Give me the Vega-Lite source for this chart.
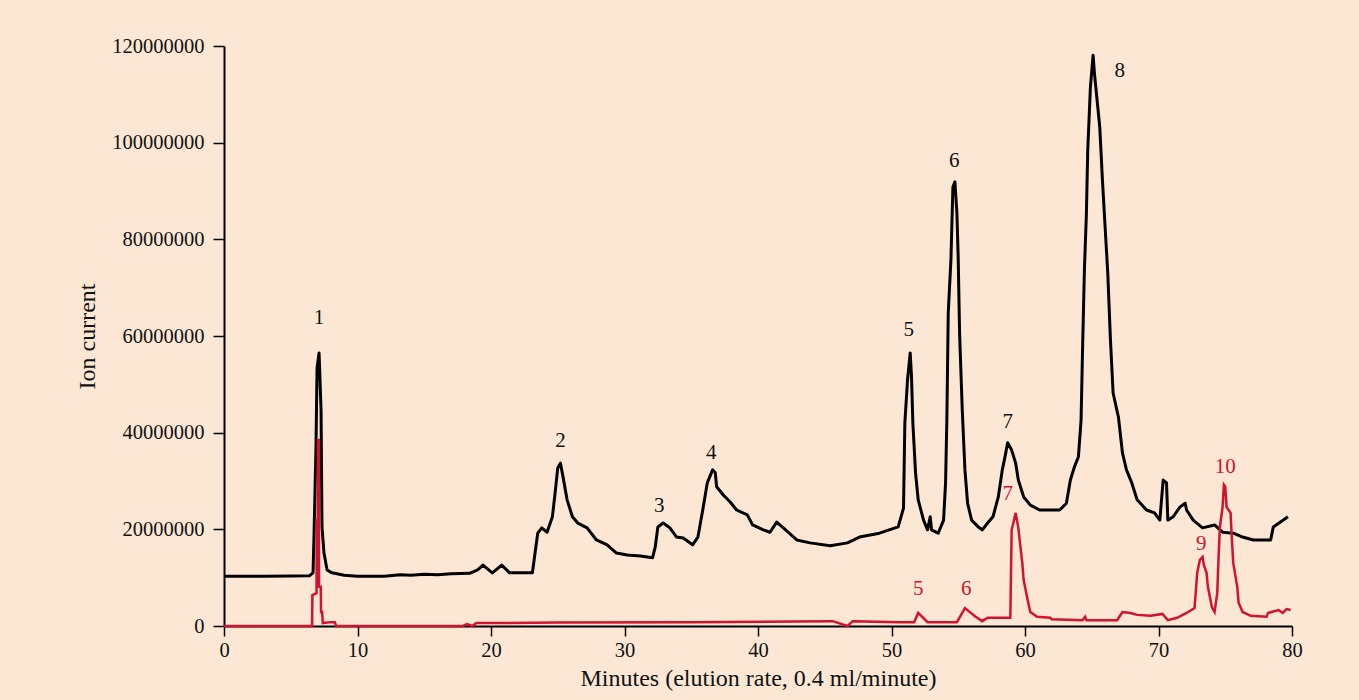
{
  "$schema": "https://vega.github.io/schema/vega-lite/v6.json",
  "width": 1068,
  "height": 580,
  "autosize": {"type": "none"},
  "padding": {"left": 224, "top": 46, "right": 67, "bottom": 74},
  "background": "#fce7d4",
  "config": {
    "view": {"stroke": null},
    "font": "Liberation Serif",
    "axis": {
      "grid": false,
      "domainColor": "#000000",
      "domainWidth": 2,
      "tickColor": "#000000",
      "tickWidth": 1.5,
      "labelColor": "#111111",
      "labelFontSize": 20.5,
      "labelFont": "Liberation Serif",
      "titleFont": "Liberation Serif",
      "titleFontSize": 24,
      "titleFontWeight": "normal",
      "titleColor": "#111111"
    }
  },
  "datasets": {
    "black": [
      {"minutes": 0, "current": 10300000},
      {"minutes": 3, "current": 10300000},
      {"minutes": 5, "current": 10350000},
      {"minutes": 6.4, "current": 10400000},
      {"minutes": 6.67, "current": 11000000},
      {"minutes": 6.74, "current": 18400000},
      {"minutes": 6.89, "current": 37000000},
      {"minutes": 6.97, "current": 53400000},
      {"minutes": 7.12, "current": 56500000},
      {"minutes": 7.27, "current": 44700000},
      {"minutes": 7.34, "current": 20500000},
      {"minutes": 7.49, "current": 15100000},
      {"minutes": 7.72, "current": 11600000},
      {"minutes": 8.09, "current": 11000000},
      {"minutes": 9, "current": 10500000},
      {"minutes": 10, "current": 10300000},
      {"minutes": 12, "current": 10300000},
      {"minutes": 13.2, "current": 10600000},
      {"minutes": 14, "current": 10500000},
      {"minutes": 15, "current": 10700000},
      {"minutes": 16, "current": 10600000},
      {"minutes": 17, "current": 10800000},
      {"minutes": 18.4, "current": 10900000},
      {"minutes": 19.0, "current": 11600000},
      {"minutes": 19.4, "current": 12600000},
      {"minutes": 20.1, "current": 11000000},
      {"minutes": 20.8, "current": 12600000},
      {"minutes": 21.4, "current": 11000000},
      {"minutes": 23.1, "current": 11000000},
      {"minutes": 23.3, "current": 15100000},
      {"minutes": 23.5, "current": 19200000},
      {"minutes": 23.8, "current": 20300000},
      {"minutes": 24.2, "current": 19400000},
      {"minutes": 24.6, "current": 22600000},
      {"minutes": 24.8, "current": 27500000},
      {"minutes": 25.0, "current": 32700000},
      {"minutes": 25.2, "current": 33700000},
      {"minutes": 25.4, "current": 30800000},
      {"minutes": 25.7, "current": 26100000},
      {"minutes": 26.1, "current": 22600000},
      {"minutes": 26.5, "current": 21300000},
      {"minutes": 27.2, "current": 20300000},
      {"minutes": 27.9, "current": 17800000},
      {"minutes": 28.7, "current": 16800000},
      {"minutes": 29.4, "current": 15100000},
      {"minutes": 30.2, "current": 14700000},
      {"minutes": 31.2, "current": 14500000},
      {"minutes": 32.1, "current": 14100000},
      {"minutes": 32.3, "current": 16300000},
      {"minutes": 32.5, "current": 20500000},
      {"minutes": 32.9, "current": 21300000},
      {"minutes": 33.4, "current": 20300000},
      {"minutes": 33.9, "current": 18400000},
      {"minutes": 34.4, "current": 18200000},
      {"minutes": 35.1, "current": 16800000},
      {"minutes": 35.5, "current": 18400000},
      {"minutes": 35.9, "current": 24600000},
      {"minutes": 36.2, "current": 29600000},
      {"minutes": 36.6, "current": 32300000},
      {"minutes": 36.8, "current": 31700000},
      {"minutes": 36.9, "current": 28800000},
      {"minutes": 37.4, "current": 27100000},
      {"minutes": 37.9, "current": 25700000},
      {"minutes": 38.4, "current": 24000000},
      {"minutes": 39.2, "current": 23000000},
      {"minutes": 39.6, "current": 20900000},
      {"minutes": 40.4, "current": 19900000},
      {"minutes": 40.9, "current": 19400000},
      {"minutes": 41.4, "current": 21500000},
      {"minutes": 41.9, "current": 20300000},
      {"minutes": 42.9, "current": 17800000},
      {"minutes": 43.9, "current": 17200000},
      {"minutes": 45.4, "current": 16600000},
      {"minutes": 46.7, "current": 17200000},
      {"minutes": 47.6, "current": 18400000},
      {"minutes": 49.1, "current": 19200000},
      {"minutes": 50.5, "current": 20500000},
      {"minutes": 50.9, "current": 24400000},
      {"minutes": 51.0, "current": 42000000},
      {"minutes": 51.2, "current": 50900000},
      {"minutes": 51.4, "current": 56500000},
      {"minutes": 51.5, "current": 51500000},
      {"minutes": 51.6, "current": 42000000},
      {"minutes": 51.8, "current": 31700000},
      {"minutes": 52.0, "current": 26100000},
      {"minutes": 52.4, "current": 21900000},
      {"minutes": 52.7, "current": 19900000},
      {"minutes": 52.9, "current": 22600000},
      {"minutes": 53.0, "current": 19900000},
      {"minutes": 53.5, "current": 19200000},
      {"minutes": 53.9, "current": 21900000},
      {"minutes": 54.05, "current": 29600000},
      {"minutes": 54.15, "current": 43200000},
      {"minutes": 54.25, "current": 64800000},
      {"minutes": 54.45, "current": 75700000},
      {"minutes": 54.6, "current": 90800000},
      {"minutes": 54.75, "current": 91900000},
      {"minutes": 54.9, "current": 85400000},
      {"minutes": 55.0, "current": 75700000},
      {"minutes": 55.1, "current": 60600000},
      {"minutes": 55.3, "current": 44700000},
      {"minutes": 55.5, "current": 32300000},
      {"minutes": 55.7, "current": 25400000},
      {"minutes": 56.0, "current": 21900000},
      {"minutes": 56.5, "current": 20500000},
      {"minutes": 56.8, "current": 19900000},
      {"minutes": 57.2, "current": 21300000},
      {"minutes": 57.6, "current": 22600000},
      {"minutes": 58.0, "current": 26700000},
      {"minutes": 58.3, "current": 32300000},
      {"minutes": 58.5, "current": 35000000},
      {"minutes": 58.7, "current": 37900000},
      {"minutes": 59.0, "current": 36400000},
      {"minutes": 59.3, "current": 33700000},
      {"minutes": 59.5, "current": 30200000},
      {"minutes": 59.9, "current": 26700000},
      {"minutes": 60.4, "current": 25000000},
      {"minutes": 61.1, "current": 24000000},
      {"minutes": 61.9, "current": 24000000},
      {"minutes": 62.6, "current": 24000000},
      {"minutes": 63.1, "current": 25400000},
      {"minutes": 63.4, "current": 30200000},
      {"minutes": 63.7, "current": 32900000},
      {"minutes": 64.0, "current": 35000000},
      {"minutes": 64.2, "current": 42600000},
      {"minutes": 64.3, "current": 55700000},
      {"minutes": 64.45, "current": 73700000},
      {"minutes": 64.6, "current": 85400000},
      {"minutes": 64.7, "current": 98500000},
      {"minutes": 64.9, "current": 111500000},
      {"minutes": 65.1, "current": 118100000},
      {"minutes": 65.2, "current": 114400000},
      {"minutes": 65.4, "current": 108800000},
      {"minutes": 65.6, "current": 103200000},
      {"minutes": 65.8, "current": 92300000},
      {"minutes": 66.0, "current": 82600000},
      {"minutes": 66.2, "current": 73000000},
      {"minutes": 66.4, "current": 59200000},
      {"minutes": 66.6, "current": 48200000},
      {"minutes": 67.0, "current": 43200000},
      {"minutes": 67.3, "current": 35800000},
      {"minutes": 67.6, "current": 32300000},
      {"minutes": 68.0, "current": 29600000},
      {"minutes": 68.4, "current": 26100000},
      {"minutes": 69.1, "current": 24000000},
      {"minutes": 69.7, "current": 23400000},
      {"minutes": 70.1, "current": 21900000},
      {"minutes": 70.35, "current": 30200000},
      {"minutes": 70.6, "current": 29600000},
      {"minutes": 70.7, "current": 21900000},
      {"minutes": 71.1, "current": 22600000},
      {"minutes": 71.6, "current": 24600000},
      {"minutes": 72.0, "current": 25400000},
      {"minutes": 72.1, "current": 24000000},
      {"minutes": 72.6, "current": 21900000},
      {"minutes": 73.3, "current": 20300000},
      {"minutes": 74.2, "current": 20900000},
      {"minutes": 74.8, "current": 19400000},
      {"minutes": 75.6, "current": 19200000},
      {"minutes": 76.3, "current": 18400000},
      {"minutes": 77.1, "current": 17800000},
      {"minutes": 78.4, "current": 17800000},
      {"minutes": 78.6, "current": 20500000},
      {"minutes": 79.7, "current": 22600000}
    ],
    "red": [
      {"minutes": 0, "current": 0},
      {"minutes": 6.6, "current": 0},
      {"minutes": 6.62, "current": 6400000},
      {"minutes": 6.93, "current": 6800000},
      {"minutes": 6.95, "current": 21900000},
      {"minutes": 7.02, "current": 21900000},
      {"minutes": 7.04, "current": 38500000},
      {"minutes": 7.1, "current": 38500000},
      {"minutes": 7.12, "current": 8100000},
      {"minutes": 7.25, "current": 8100000},
      {"minutes": 7.27, "current": 2900000},
      {"minutes": 7.35, "current": 2900000},
      {"minutes": 7.4, "current": 600000},
      {"minutes": 8.0, "current": 800000},
      {"minutes": 8.3, "current": 800000},
      {"minutes": 8.4, "current": 0},
      {"minutes": 17.9, "current": 0},
      {"minutes": 18.2, "current": 400000},
      {"minutes": 18.6, "current": 0},
      {"minutes": 18.9, "current": 600000},
      {"minutes": 25, "current": 700000},
      {"minutes": 35, "current": 800000},
      {"minutes": 45.6, "current": 1000000},
      {"minutes": 46.7, "current": 0},
      {"minutes": 47.1, "current": 1000000},
      {"minutes": 50.6, "current": 800000},
      {"minutes": 51.7, "current": 800000},
      {"minutes": 52.0, "current": 2700000},
      {"minutes": 52.7, "current": 800000},
      {"minutes": 54.9, "current": 800000},
      {"minutes": 55.5, "current": 3700000},
      {"minutes": 56.3, "current": 1900000},
      {"minutes": 56.8, "current": 1000000},
      {"minutes": 57.2, "current": 1700000},
      {"minutes": 58.9, "current": 1700000},
      {"minutes": 59.0, "current": 19900000},
      {"minutes": 59.1, "current": 21000000},
      {"minutes": 59.3, "current": 23400000},
      {"minutes": 59.5, "current": 20300000},
      {"minutes": 59.6, "current": 17800000},
      {"minutes": 59.8, "current": 13000000},
      {"minutes": 59.9, "current": 9500000},
      {"minutes": 60.2, "current": 5400000},
      {"minutes": 60.4, "current": 2900000},
      {"minutes": 60.9, "current": 1900000},
      {"minutes": 61.9, "current": 1700000},
      {"minutes": 62.0, "current": 1400000},
      {"minutes": 64.3, "current": 1200000},
      {"minutes": 64.5, "current": 1900000},
      {"minutes": 64.6, "current": 1200000},
      {"minutes": 66.9, "current": 1200000},
      {"minutes": 67.3, "current": 2900000},
      {"minutes": 67.9, "current": 2700000},
      {"minutes": 68.4, "current": 2300000},
      {"minutes": 69.4, "current": 2100000},
      {"minutes": 70.3, "current": 2500000},
      {"minutes": 70.7, "current": 1200000},
      {"minutes": 71.4, "current": 1700000},
      {"minutes": 72.1, "current": 2700000},
      {"minutes": 72.7, "current": 3700000},
      {"minutes": 72.9, "current": 11000000},
      {"minutes": 73.1, "current": 13700000},
      {"minutes": 73.3, "current": 14300000},
      {"minutes": 73.4, "current": 12600000},
      {"minutes": 73.6, "current": 11000000},
      {"minutes": 73.7, "current": 8100000},
      {"minutes": 74.0, "current": 3900000},
      {"minutes": 74.2, "current": 2900000},
      {"minutes": 74.4, "current": 6800000},
      {"minutes": 74.5, "current": 14300000},
      {"minutes": 74.6, "current": 20500000},
      {"minutes": 74.8, "current": 24600000},
      {"minutes": 74.9, "current": 29200000},
      {"minutes": 75.0, "current": 28800000},
      {"minutes": 75.1, "current": 24600000},
      {"minutes": 75.4, "current": 23400000},
      {"minutes": 75.5, "current": 17800000},
      {"minutes": 75.6, "current": 13000000},
      {"minutes": 75.9, "current": 8100000},
      {"minutes": 76.0, "current": 4800000},
      {"minutes": 76.3, "current": 2900000},
      {"minutes": 76.9, "current": 2100000},
      {"minutes": 78.1, "current": 1900000},
      {"minutes": 78.2, "current": 2700000},
      {"minutes": 79.0, "current": 3300000},
      {"minutes": 79.3, "current": 2700000},
      {"minutes": 79.6, "current": 3500000},
      {"minutes": 79.9, "current": 3300000}
    ],
    "labels": [
      {"minutes": 7.12, "current": 63700000, "label": "1", "series": "black"},
      {"minutes": 25.2, "current": 38300000, "label": "2", "series": "black"},
      {"minutes": 32.6, "current": 24800000, "label": "3", "series": "black"},
      {"minutes": 36.5, "current": 35800000, "label": "4", "series": "black"},
      {"minutes": 51.3, "current": 61200000, "label": "5", "series": "black"},
      {"minutes": 54.7, "current": 96200000, "label": "6", "series": "black"},
      {"minutes": 58.7, "current": 42200000, "label": "7", "series": "black"},
      {"minutes": 67.1, "current": 114800000, "label": "8", "series": "black"},
      {"minutes": 52.0, "current": 7700000, "label": "5", "series": "red"},
      {"minutes": 55.6, "current": 7700000, "label": "6", "series": "red"},
      {"minutes": 58.7, "current": 27300000, "label": "7", "series": "red"},
      {"minutes": 73.2, "current": 17000000, "label": "9", "series": "red"},
      {"minutes": 75.0, "current": 32900000, "label": "10", "series": "red"}
    ]
  },
  "encoding": {
    "x": {
      "field": "minutes",
      "type": "quantitative",
      "scale": {"domain": [0, 80], "nice": false, "zero": false},
      "axis": {
        "title": "Minutes (elution rate, 0.4 ml/minute)",
        "values": [0, 10, 20, 30, 40, 50, 60, 70, 80],
        "tickSize": 10,
        "labelPadding": 4,
        "titlePadding": 6,
        "labelFlush": false
      }
    },
    "y": {
      "field": "current",
      "type": "quantitative",
      "scale": {"domain": [0, 120000000], "nice": false},
      "axis": {
        "title": "Ion current",
        "values": [0, 20000000, 40000000, 60000000, 80000000, 100000000, 120000000],
        "format": "d",
        "tickSize": 11,
        "labelPadding": 9,
        "titlePadding": 12,
        "labelFlush": false
      }
    }
  },
  "layer": [
    {
      "data": {"name": "black"},
      "mark": {"type": "line", "color": "#000000", "strokeWidth": 3, "strokeJoin": "round"}
    },
    {
      "data": {"name": "red"},
      "mark": {"type": "line", "color": "#d2122e", "strokeWidth": 2.5, "strokeJoin": "miter"}
    },
    {
      "data": {"name": "labels"},
      "mark": {"type": "text", "fontSize": 21, "align": "center", "baseline": "middle", "font": "Liberation Serif"},
      "encoding": {
        "text": {"field": "label", "type": "nominal"},
        "color": {
          "field": "series",
          "type": "nominal",
          "scale": {"domain": ["black", "red"], "range": ["#111111", "#d2122e"]},
          "legend": null
        }
      }
    }
  ]
}
